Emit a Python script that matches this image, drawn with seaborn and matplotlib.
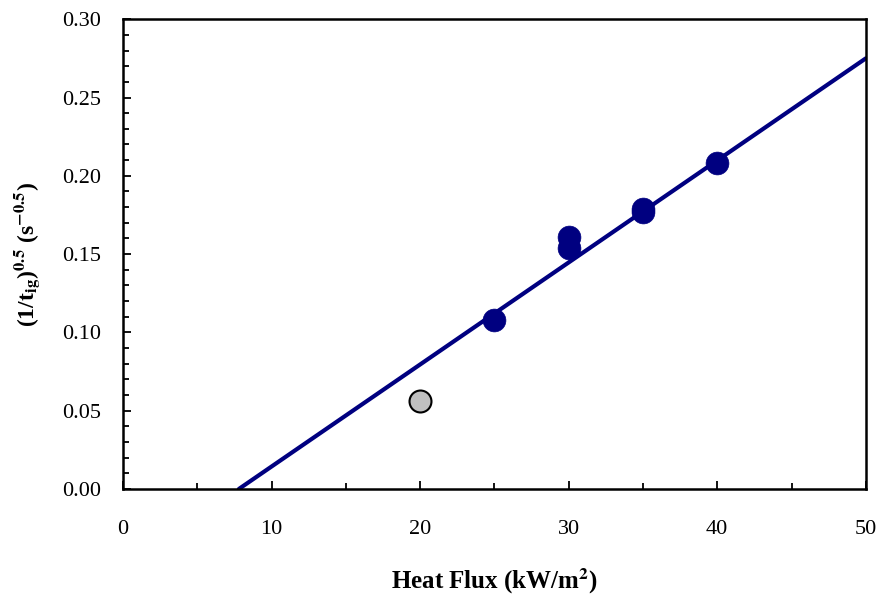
import matplotlib

matplotlib.use("Agg")
import matplotlib.pyplot as plt
import numpy as np
import pandas as pd
import seaborn as sns
from matplotlib.ticker import MultipleLocator, FormatStrFormatter

# measured ignition data (heat flux kW/m2, (1/t_ig)^0.5)
heat_flux = [25, 30, 30, 35, 35, 40]
inv_sqrt_tig = [0.108, 0.161, 0.154, 0.179, 0.177, 0.208]
outlier_flux = [20]
outlier_val = [0.056]

# linear fit drawn from its x-intercept to the axis end
fit_flux = [7.8, 50]
fit_val = [0.0, 0.275]

sns.set_theme(style="ticks")
plt.rcParams["font.family"] = ["Liberation Serif", "DejaVu Serif"]
plt.rcParams["mathtext.fontset"] = "stix"
plt.rcParams["text.color"] = "black"
plt.rcParams["axes.labelcolor"] = "black"

pts = pd.DataFrame({"q": heat_flux, "v": inv_sqrt_tig})
out = pd.DataFrame({"q": outlier_flux, "v": outlier_val})
fit = pd.DataFrame({"q": fit_flux, "v": fit_val})

fig = plt.figure(figsize=(8.88, 6.01), dpi=100)
ax = fig.add_axes([0.1385, 0.1864, 0.8365, 0.7816])

sns.lineplot(data=fit, x="q", y="v", color="#000080", linewidth=3, ax=ax, zorder=2)
sns.scatterplot(data=pts, x="q", y="v", color="#000080", s=270, edgecolor="#000080",
                linewidth=0.5, ax=ax, zorder=3)
sns.scatterplot(data=out, x="q", y="v", color="#c0c0c0", s=250, edgecolor="black",
                linewidth=1.5, ax=ax, zorder=3)

ax.set_xlim(0, 50)
ax.set_ylim(0, 0.30)
ax.xaxis.set_major_locator(MultipleLocator(10))
ax.xaxis.set_minor_locator(MultipleLocator(5))
ax.yaxis.set_major_locator(MultipleLocator(0.05))
ax.yaxis.set_minor_locator(MultipleLocator(0.01))
ax.yaxis.set_major_formatter(FormatStrFormatter("%.2f"))

ax.tick_params(which="both", direction="in", top=False, right=False,
               labelsize=16, width=1.3, colors="black", labelcolor="black")
ax.tick_params(which="major", length=6)
ax.tick_params(which="minor", length=4)
ax.tick_params(axis="x", which="major", pad=22)
ax.tick_params(axis="y", which="major", pad=16)

for sp in ax.spines.values():
    sp.set_linewidth(1.8)
    sp.set_color("black")

ax.set_xlabel("Heat Flux (kW/m$^{\\mathbf{2}}$)", fontsize=18, fontweight="bold", labelpad=20)
ax.set_ylabel("(1/t$_{\\mathbf{ig}}$)$^{\\mathbf{0.5}}$ (s$^{\\mathbf{-0.5}}$)",
              fontsize=17, fontweight="bold", labelpad=14)

fig.savefig("out.png", dpi=100)
